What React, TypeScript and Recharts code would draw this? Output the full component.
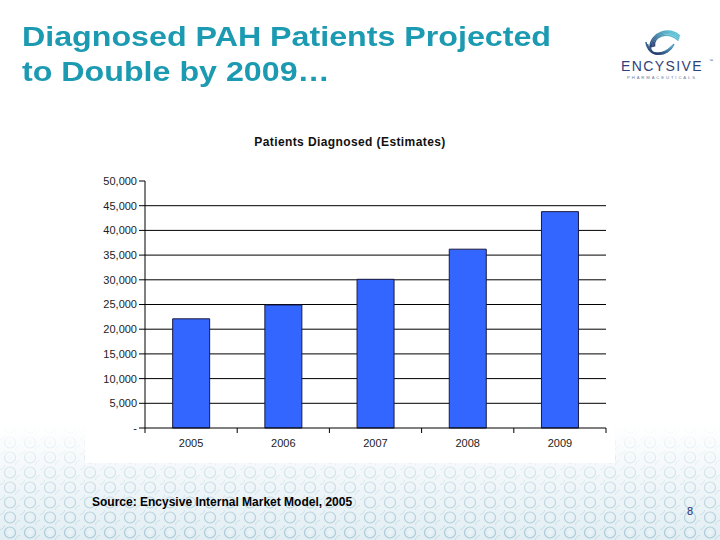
import { Bar, BarChart, CartesianGrid, XAxis, YAxis } from "recharts";

const years = ["2005", "2006", "2007", "2008", "2009"];
const patients = [22100, 24900, 30100, 36200, 43800];
const yTicks = [0, 5000, 10000, 15000, 20000, 25000, 30000, 35000, 40000, 45000, 50000];
const gridValues = [5000, 10000, 15000, 20000, 25000, 30000, 35000, 40000, 45000];

const data = years.map((year, i) => ({ year, patients: patients[i] }));

const TEAL = "#1b9ab1";
const FONT = "'Liberation Sans', Arial, sans-serif";
const tickFmt = (v: number) => (v === 0 ? "-" : v.toLocaleString("en-US"));

function YearTick(props: any) {
  const { x, y, payload, index, visibleTicksCount } = props;
  const half = payload?.offset ?? 0;
  const last = index === visibleTicksCount - 1;
  return (
    <g>
      <line x1={x - half} x2={x - half} y1={y} y2={y + 5} stroke="#000" />
      {last && <line x1={x + half} x2={x + half} y1={y} y2={y + 5} stroke="#000" />}
      <text x={x} y={y + 19} textAnchor="middle" fontSize={11} fill="#222" fontFamily={FONT}>
        {payload.value}
      </text>
    </g>
  );
}

function Backdrop() {
  return (
    <svg width={720} height={540} style={{ position: "absolute", left: 0, top: 0 }}>
      <defs>
        <pattern id="rings" width="20" height="15" patternUnits="userSpaceOnUse">
          <circle cx="10" cy="7.5" r="5.5" fill="none" stroke="#a8c9d6" strokeWidth="1.2" />
          <circle cx="10" cy="7.5" r="2.2" fill="#e8f3f7" />
          <circle cx="0" cy="0" r="4.5" fill="none" stroke="#c2dbe4" strokeWidth="1" />
          <circle cx="20" cy="15" r="4.5" fill="none" stroke="#c2dbe4" strokeWidth="1" />
        </pattern>
        <linearGradient id="fade" x1="0" y1="0" x2="0" y2="1">
          <stop offset="0%" stopColor="#fff" stopOpacity={0} />
          <stop offset="100%" stopColor="#fff" stopOpacity={1} />
        </linearGradient>
        <mask id="fadeMask">
          <rect x="0" y="425" width="720" height="115" fill="url(#fade)" />
        </mask>
      </defs>
      <rect x="0" y="0" width="720" height="540" fill="#fff" />
      <rect x="0" y="425" width="720" height="115" fill="#e2eef3" mask="url(#fadeMask)" />
      <rect x="0" y="425" width="720" height="115" fill="url(#rings)" mask="url(#fadeMask)" />
    </svg>
  );
}

function Logo() {
  return (
    <svg width={110} height={70} style={{ position: "absolute", left: 608, top: 22 }}>
      <defs>
        <linearGradient id="swirlTop" x1="0" y1="1" x2="1" y2="0">
          <stop offset="0%" stopColor="#2a3b70" />
          <stop offset="100%" stopColor="#6ad6e6" />
        </linearGradient>
        <linearGradient id="swirlBot" x1="1" y1="0" x2="0" y2="1">
          <stop offset="0%" stopColor="#5aa8c8" />
          <stop offset="100%" stopColor="#22336a" />
        </linearGradient>
      </defs>
      {[0, 1, 2, 3].map((k) => (
        <path
          key={"t" + k}
          d={`M ${42 + k * 1.5} ${26 - k * 0.5} C ${42 + k} ${10 + k * 1.5}, ${62 - k} ${4 + k * 1.5}, ${72 - k * 0.5} ${14 + k * 1.5}`}
          fill="none"
          stroke="url(#swirlTop)"
          strokeWidth={1.6}
        />
      ))}
      {[0, 1, 2, 3].map((k) => (
        <path
          key={"b" + k}
          d={`M ${38 + k * 1.5} ${20 + k * 2} C ${40 + k} ${36 - k * 0.5}, ${60 - k} ${36 - k * 1.5}, ${66 - k} ${22 + k}`}
          fill="none"
          stroke="url(#swirlBot)"
          strokeWidth={1.6}
        />
      ))}
      <text x={54} y={49} textAnchor="middle" fontSize={14} fontFamily={FONT} fill="#2f4277" letterSpacing={1.4}>
        ENCYSIVE
      </text>
      <text x={101} y={40} fontSize={4} fontFamily={FONT} fill="#2f4277">
        ™
      </text>
      <text x={54} y={57} textAnchor="middle" fontSize={4.2} fontFamily={FONT} fill="#6c7a99" letterSpacing={1.9}>
        PHARMACEUTICALS
      </text>
    </svg>
  );
}

export default function App() {
  return (
    <div style={{ position: "fixed", left: 0, top: 0, width: 720, height: 540, overflow: "hidden", fontFamily: FONT }}>
      <Backdrop />
      <Logo />
      <div
        style={{
          position: "absolute",
          left: 22,
          top: 19,
          color: TEAL,
          fontSize: 28,
          fontWeight: "bold",
          lineHeight: "35px",
          transform: "scaleX(1.15)",
          transformOrigin: "left top",
          whiteSpace: "nowrap",
        }}
      >
        Diagnosed PAH Patients Projected
        <br />
        to Double by 2009…
      </div>
      <div style={{ position: "absolute", left: 85, top: 120, width: 530, height: 343, background: "#fff" }} />
      <div
        style={{
          position: "absolute",
          left: 85,
          top: 135,
          width: 530,
          textAlign: "center",
          fontSize: 12,
          fontWeight: "bold",
          letterSpacing: 0.4,
          color: "#111",
        }}
      >
        Patients Diagnosed (Estimates)
      </div>
      <div style={{ position: "absolute", left: 85, top: 120 }}>
        <BarChart
          width={530}
          height={343}
          data={data}
          margin={{ top: 61, right: 9, left: 0, bottom: 0 }}
          barCategoryGap="30%"
        >
          <CartesianGrid vertical={false} horizontalValues={gridValues} stroke="#000" strokeWidth={1} />
          <XAxis
            dataKey="year"
            height={35}
            axisLine={{ stroke: "#000" }}
            tickLine={false}
            tickSize={0}
            tickMargin={0}
            tick={<YearTick />}
            interval={0}
          />
          <YAxis
            width={60}
            domain={[0, 50000]}
            ticks={yTicks}
            tickFormatter={tickFmt}
            axisLine={{ stroke: "#000" }}
            tickLine={{ stroke: "#000" }}
            tickSize={6}
            tickMargin={2}
            tick={{ fontSize: 11, fill: "#222", fontFamily: FONT }}
            interval={0}
          />
          <Bar dataKey="patients" fill="#3366ff" stroke="#1a1a40" strokeWidth={1} isAnimationActive={false} />
        </BarChart>
      </div>
      <div
        style={{
          position: "absolute",
          left: 92,
          top: 495,
          fontSize: 12,
          fontWeight: "bold",
          fontFamily: "'Liberation Sans Narrow', 'Arial Narrow', " + FONT,
          color: "#000",
        }}
      >
        Source: Encysive Internal Market Model, 2005
      </div>
      <div style={{ position: "absolute", left: 687, top: 505, fontSize: 11, color: "#1f2f6a" }}>8</div>
    </div>
  );
}
